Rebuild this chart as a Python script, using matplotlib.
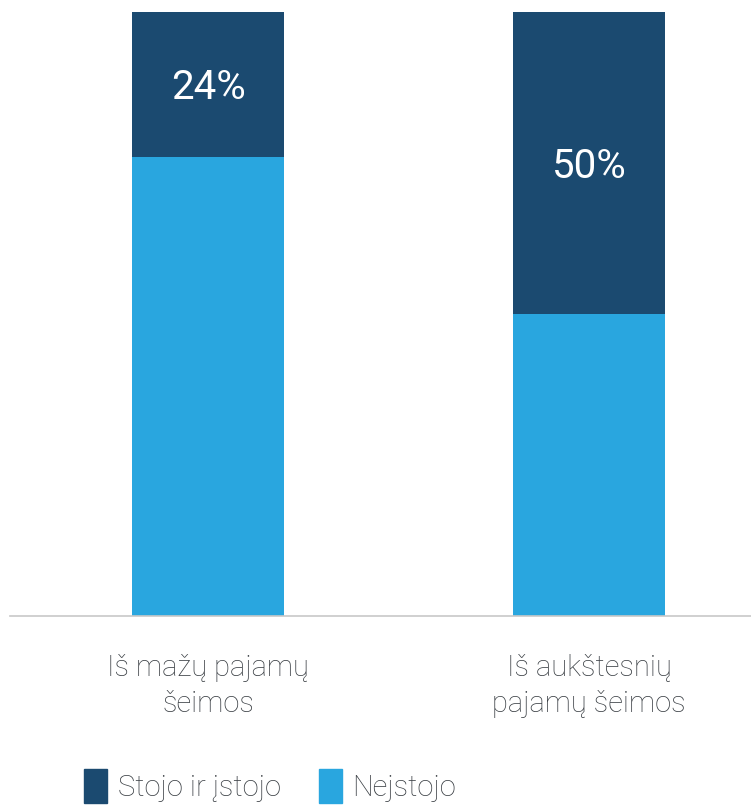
import matplotlib
matplotlib.use("Agg")
import matplotlib.pyplot as plt
from matplotlib.patches import Patch

# duomenys
categories = ["Iš mažų pajamų\nšeimos", "Iš aukštesnių\npajamų šeimos"]
stojo = [24, 50]
neistojo = [76, 50]
series_names = ["Stojo ir įstojo", "Nejstojo"]

dark = "#1b4a70"
light = "#29a6df"
text_color = "#3a3f44"

plt.rcParams['font.family'] = ['Roboto', 'DejaVu Sans']

fig = plt.figure(figsize=(7.51, 8.11), dpi=100)
ax = fig.add_axes([10 / 751, 195 / 811, 741 / 751, 604 / 811])

x = list(range(len(categories)))
ax.bar(x, neistojo, width=0.40, color=light)
ax.bar(x, stojo, width=0.40, bottom=neistojo, color=dark)

# procentai viršutinėje dalyje
for i in x:
    ax.text(i, neistojo[i] + stojo[i] / 2 - 0.5, f"{stojo[i]}%", ha="center", va="center",
            color="white", fontsize=29, fontweight="normal")

ax.set_xlim(-198 / 381, 543 / 381)
ax.set_ylim(0, 100)
ax.set_xticks(x)
ax.set_xticklabels(categories, fontsize=21, color=text_color, fontweight="light",
                   linespacing=1.4)
ax.tick_params(axis="x", length=0, pad=27)
ax.set_yticks([])
for s in ["top", "right", "left"]:
    ax.spines[s].set_visible(False)
ax.spines["bottom"].set_color("#c8c8c8")
ax.spines["bottom"].set_linewidth(1.2)

handles = [Patch(color=dark), Patch(color=light)]
fig.legend(handles, series_names, loc="center", bbox_to_anchor=(270 / 751, 1 - 786 / 811),
           ncol=2, frameon=False, handlelength=0.8, handleheight=1.4,
           handletextpad=0.35, columnspacing=1.3, labelcolor=text_color,
           prop={"family": "Roboto", "weight": "light", "size": 21})

fig.savefig("out.png", dpi=100)
